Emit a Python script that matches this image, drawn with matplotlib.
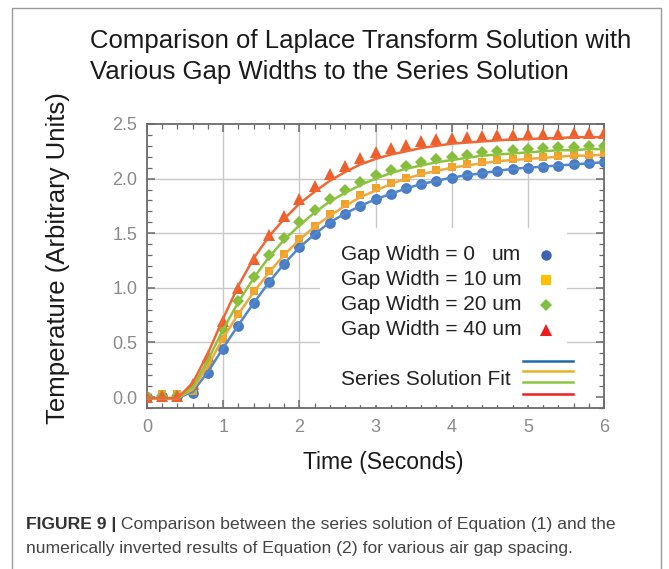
import matplotlib
matplotlib.use("Agg")
import matplotlib.pyplot as plt
from matplotlib.patches import Rectangle
from matplotlib.lines import Line2D
from matplotlib.ticker import MultipleLocator, FixedLocator

plt.rcParams['font.family'] = ['Liberation Sans', 'DejaVu Sans']

# ---------------- data ----------------
time_s = [0.0, 0.2, 0.4, 0.6, 0.8, 1.0, 1.2, 1.4, 1.6, 1.8, 2.0, 2.2, 2.4, 2.6, 2.8, 3.0,
          3.2, 3.4, 3.6, 3.8, 4.0, 4.2, 4.4, 4.6, 4.8, 5.0, 5.2, 5.4, 5.6, 5.8, 6.0]

# numerically inverted Laplace results (markers)
gap0_pts = [0.0, 0.01, 0.01, 0.04, 0.22, 0.44, 0.65, 0.86, 1.05, 1.22, 1.37, 1.49, 1.59, 1.68, 1.75, 1.81,
            1.86, 1.91, 1.95, 1.98, 2.01, 2.03, 2.05, 2.07, 2.09, 2.10, 2.11, 2.12, 2.13, 2.14, 2.15]
gap10_pts = [0.0, 0.03, 0.03, 0.06, 0.28, 0.53, 0.76, 0.97, 1.15, 1.31, 1.45, 1.57, 1.68, 1.77, 1.85, 1.91,
             1.96, 2.01, 2.05, 2.08, 2.11, 2.13, 2.15, 2.17, 2.18, 2.19, 2.20, 2.21, 2.22, 2.22, 2.23]
gap20_pts = [0.0, 0.01, 0.01, 0.08, 0.33, 0.62, 0.88, 1.10, 1.30, 1.46, 1.60, 1.71, 1.81, 1.90, 1.97, 2.03,
             2.08, 2.12, 2.15, 2.18, 2.20, 2.22, 2.24, 2.25, 2.26, 2.27, 2.28, 2.29, 2.29, 2.30, 2.30]
gap40_pts = [0.0, 0.01, 0.01, 0.12, 0.38, 0.70, 1.00, 1.26, 1.48, 1.66, 1.81, 1.93, 2.04, 2.12, 2.19, 2.24,
             2.28, 2.31, 2.34, 2.36, 2.37, 2.38, 2.39, 2.40, 2.40, 2.41, 2.41, 2.41, 2.42, 2.42, 2.42]

# series solution fits (lines)
gap0_fit = [-0.01, -0.01, -0.01, 0.05, 0.23, 0.45, 0.66, 0.86, 1.05, 1.22, 1.37, 1.49, 1.60, 1.68, 1.75, 1.81,
            1.86, 1.91, 1.95, 1.98, 2.01, 2.03, 2.05, 2.07, 2.09, 2.10, 2.11, 2.12, 2.13, 2.14, 2.15]
gap10_fit = [-0.01, -0.01, -0.01, 0.07, 0.29, 0.54, 0.76, 0.96, 1.14, 1.30, 1.44, 1.56, 1.66, 1.75, 1.83, 1.89,
             1.95, 2.00, 2.04, 2.07, 2.10, 2.12, 2.14, 2.16, 2.17, 2.18, 2.19, 2.20, 2.21, 2.21, 2.22]
gap20_fit = [-0.01, -0.01, -0.01, 0.09, 0.34, 0.62, 0.87, 1.09, 1.28, 1.44, 1.57, 1.69, 1.79, 1.87, 1.94, 2.00,
             2.05, 2.09, 2.12, 2.15, 2.17, 2.19, 2.21, 2.22, 2.23, 2.24, 2.25, 2.26, 2.26, 2.27, 2.27]
gap40_fit = [-0.01, -0.01, -0.01, 0.13, 0.40, 0.72, 1.02, 1.27, 1.47, 1.63, 1.77, 1.88, 1.98, 2.06, 2.13, 2.18,
             2.22, 2.25, 2.28, 2.30, 2.32, 2.33, 2.34, 2.35, 2.36, 2.36, 2.37, 2.37, 2.38, 2.38, 2.38]

legend_labels = ["Gap Width = 0", "Gap Width = 10 um", "Gap Width = 20 um", "Gap Width = 40 um"]
fit_label = "Series Solution Fit"
x_ticks = [0, 1, 2, 3, 4, 5, 6]
y_ticks = [0.0, 0.5, 1.0, 1.5, 2.0, 2.5]
x_grid = [1, 2, 3, 4, 5]
y_grid = [0.5, 1.0, 1.5, 2.0]

title_lines = ["Comparison of Laplace Transform Solution with",
               "Various Gap Widths to the Series Solution"]
caption_bold = "FIGURE 9 |"
caption_1 = " Comparison between the series solution of Equation (1) and the"
caption_2 = "numerically inverted results of Equation (2) for various air gap spacing."

# ---------------- figure ----------------
W, H = 669, 569
fig = plt.figure(figsize=(W / 100, H / 100), dpi=100)
fig.patch.set_facecolor('white')

# outer frame
fig.add_artist(Rectangle((12 / W, -0.05), (661 - 12) / W, 1.05 - 8 / H,
                         transform=fig.transFigure, fill=False,
                         edgecolor='#9a9a9a', linewidth=1.0))

ax = fig.add_axes([147 / W, 1 - 408 / H, (604 - 147) / W, (408 - 124) / H])
ax.set_xlim(0, 6)
ax.set_ylim(-0.1, 2.5)

for g in x_grid:
    ax.axvline(g, color='#c8c8c8', lw=1.0, zorder=1)
for g in y_grid:
    ax.axhline(g, color='#c8c8c8', lw=1.0, zorder=1)

# legend background (covers grid)
ax.add_patch(Rectangle((0.379, 0.01), 0.540, 0.624, transform=ax.transAxes,
                       facecolor='white', edgecolor='none', zorder=2))

pt_styles = [
    (gap0_pts, dict(marker='o', color='#4a7cc6', ms=7.8)),
    (gap10_pts, dict(marker='s', color='#f0a326', ms=6.3)),
    (gap20_pts, dict(marker='D', color='#86bd3c', ms=6.3)),
    (gap40_pts, dict(marker='^', color='#ef5f2c', ms=8.3)),
]
for vals, st in pt_styles:
    ax.plot(time_s, vals, linestyle='none', zorder=3, markeredgewidth=0, **st)

fit_colors = ['#4f88cc', '#f2a83a', '#8cc43f', '#f06634']
for vals, c in zip([gap0_fit, gap10_fit, gap20_fit, gap40_fit], fit_colors):
    ax.plot(time_s, vals, color=c, lw=1.8, zorder=4, solid_capstyle='round')

# axes styling
frame_c = '#6a6a6a'
for s in ax.spines.values():
    s.set_color(frame_c)
    s.set_linewidth(1.3)
ax.xaxis.set_major_locator(FixedLocator(x_ticks))
ax.yaxis.set_major_locator(FixedLocator(y_ticks))
ax.xaxis.set_minor_locator(MultipleLocator(0.2))
ax.yaxis.set_minor_locator(MultipleLocator(0.1))
ax.set_xticklabels([str(v) for v in x_ticks])
ax.set_yticklabels([f"{v:.1f}" for v in y_ticks])
ax.tick_params(which='both', direction='in', top=True, right=True, color=frame_c,
               labelcolor='#8a8a8a', labelsize=13)
ax.tick_params(which='major', length=6, width=1.1)
ax.tick_params(which='minor', length=3.5, width=0.9)
ax.tick_params(axis='x', pad=8)
ax.tick_params(axis='y', pad=7)

# legend content
tx = 0.4245
rows_y = [0.540, 0.452, 0.364, 0.276]
for lab, yy in zip(legend_labels, rows_y):
    ax.text(tx, yy, lab, transform=ax.transAxes, ha='left', va='center',
            fontsize=15, color='#222222', zorder=5)
ax.text(0.818, rows_y[0], "um", transform=ax.transAxes, ha='right', va='center',
        fontsize=15, color='#222222', zorder=5)
leg_marks = [('o', '#3d62b0', 7.5), ('s', '#ffc000', 7.0), ('D', '#7cc142', 6.5), ('^', '#ee1c1c', 8.0)]
for (m, c, s), yy in zip(leg_marks, rows_y):
    ax.add_line(Line2D([0.873], [yy], marker=m, color=c, ms=s, mew=0,
                       transform=ax.transAxes, zorder=5, clip_on=False))
ax.text(tx, 0.102, fit_label, transform=ax.transAxes, ha='left', va='center',
        fontsize=15, color='#222222', zorder=5)
leg_line_c = ['#1f6aa5', '#e6b422', '#8cc63f', '#ee2020']
for c, yy in zip(leg_line_c, [0.165, 0.130, 0.092, 0.049]):
    ax.add_line(Line2D([0.823, 0.932], [yy, yy], color=c, lw=1.8,
                       transform=ax.transAxes, zorder=5, clip_on=False))

# titles and labels
fig.text(90 / W, 1 - 41 / H, title_lines[0], ha='left', va='center', fontsize=18.5, color='#1a1a1a')
fig.text(90 / W, 1 - 72 / H, title_lines[1], ha='left', va='center', fontsize=18.5, color='#1a1a1a')
fig.text(58 / W, 1 - 258 / H, "Temperature (Arbitrary Units)", rotation=90,
         ha='center', va='center', fontsize=18.5, color='#1a1a1a')
fig.text(383 / W, 1 - 463 / H, "Time (Seconds)", ha='center', va='center',
         fontsize=16.5, color='#1a1a1a')

# caption
t1 = fig.text(26 / W, 1 - 525 / H, caption_bold, ha='left', va='center',
              fontsize=12.6, fontweight='bold', color='#333333')
ax.annotate(caption_1, xy=(1, 0.5), xycoords=t1, ha='left', va='center',
            fontsize=12.6, color='#444444', annotation_clip=False)
fig.text(26 / W, 1 - 548 / H, caption_2, ha='left', va='center',
         fontsize=12.6, color='#444444')

fig.savefig('out.png', dpi=100, facecolor='white')
